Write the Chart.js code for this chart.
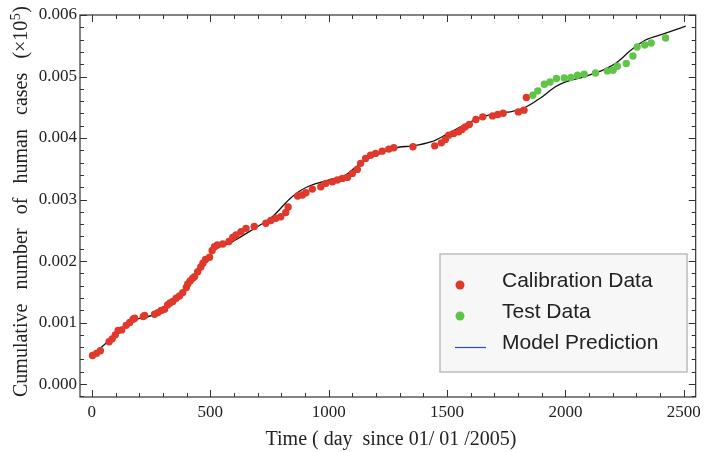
<!DOCTYPE html>
<html>
<head>
<meta charset="utf-8">
<script src="https://cdn.jsdelivr.net/npm/chart.js@4.4.0/dist/chart.umd.min.js"></script>
<style>
html, body { margin: 0; padding: 0; background: #fff; }
</style>
</head>
<body>
<canvas id="chart" width="706" height="452"></canvas>
<script>
// calibration data (red)
const calibDays = [3, 20, 36, 73, 86, 99, 111, 126, 145, 160, 174, 181, 217, 223, 265, 279, 293, 307, 320, 330,
  342, 356, 370, 384, 399, 405, 415, 426, 434, 447, 460, 469, 480, 497, 508, 518, 530, 553, 579, 595,
  609, 630, 651, 686, 735, 756, 777, 798, 819, 829, 869, 889, 904, 931, 967, 988, 1016, 1037, 1058, 1079,
  1100, 1121, 1135, 1156, 1177, 1198, 1226, 1254, 1275, 1356, 1448, 1476, 1493, 1507, 1528, 1549, 1563, 1577, 1594, 1622,
  1651, 1692, 1714, 1737, 1801, 1825, 1835];
const calibCases = [0.000464, 0.000500, 0.000541, 0.000687, 0.000735, 0.000800, 0.000873, 0.000881, 0.000955, 0.001000,
  0.001055, 0.001071, 0.001097, 0.001114, 0.001136, 0.001162, 0.001198, 0.001218, 0.001287, 0.001320,
  0.001344, 0.001396, 0.001433, 0.001487, 0.001571, 0.001628, 0.001677, 0.001721, 0.001747, 0.001828,
  0.001904, 0.001964, 0.002026, 0.002062, 0.002172, 0.002234, 0.002261, 0.002278, 0.002318, 0.002383,
  0.002424, 0.002477, 0.002532, 0.002562, 0.002614, 0.002659, 0.002695, 0.002721, 0.002789, 0.002878,
  0.003057, 0.003073, 0.003110, 0.003170, 0.003208, 0.003263, 0.003289, 0.003317, 0.003344, 0.003360,
  0.003425, 0.003490, 0.003588, 0.003669, 0.003722, 0.003750, 0.003787, 0.003820, 0.003841, 0.003857,
  0.003873, 0.003922, 0.003977, 0.004047, 0.004075, 0.004101, 0.004140, 0.004182, 0.004221, 0.004302,
  0.004344, 0.004360, 0.004383, 0.004404, 0.004425, 0.004453, 0.004659];

// test data (green)
const testDays = [1862, 1883, 1911, 1935, 1962, 1995, 2023, 2051, 2079, 2127, 2177, 2201, 2219, 2257, 2285, 2303, 2335, 2362, 2423];
const testCases = [0.004696, 0.004766, 0.004875, 0.004912, 0.004968, 0.004977, 0.004984, 0.005021, 0.005037, 0.005058,
  0.005091, 0.005102, 0.005167, 0.005211, 0.005334, 0.005481, 0.005513, 0.005545, 0.005627];

// model prediction curve
const modelDays = [0, 76, 160, 257, 316, 391, 455, 518, 581, 678, 762, 833, 875, 918, 1002, 1073, 1115, 1170, 1225, 1296,
  1351, 1435, 1494, 1561, 1633, 1717, 1772, 1831, 1898, 1956, 1998, 2083, 2167, 2214, 2277, 2336, 2420, 2508];
const modelCases = [0.00046, 0.00072, 0.00101, 0.00112, 0.00125, 0.00153, 0.00186, 0.00218, 0.00229, 0.00251,
  0.00272, 0.00300, 0.00313, 0.00322, 0.00332, 0.00340, 0.00353, 0.00367, 0.00376, 0.00385,
  0.00387, 0.00394, 0.00405, 0.00419, 0.00432, 0.00441, 0.00443, 0.00450, 0.00466, 0.00483,
  0.00491, 0.00500, 0.00512, 0.00522, 0.00543, 0.00559, 0.00570, 0.00582];

const xTicks = [0, 500, 1000, 1500, 2000, 2500];
const yTicks = [0, 0.001, 0.002, 0.003, 0.004, 0.005, 0.006];

const RED = '#e0392b';
const GREEN = '#5fc548';
const SERIF = '"Liberation Serif", "Times New Roman", serif';
const SANS = '"Liberation Sans", Arial, sans-serif';

function toPoints(xs, ys) {
    return xs.map((x, i) => ({ x: x, y: ys[i] }));
}

// frame with inward ticks on all four sides (Mathematica style)
const framePlugin = {
    id: 'frame',
    afterDatasetsDraw(chart) {
        const { ctx, chartArea: a, scales: { x, y } } = chart;
        ctx.save();
        ctx.strokeStyle = '#333';
        ctx.lineWidth = 1.2;
        ctx.strokeRect(a.left, a.top, a.right - a.left, a.bottom - a.top);
        ctx.lineWidth = 1;
        ctx.beginPath();
        for (let i = 0; i <= 25; i++) {
            const px = Math.round(x.getPixelForValue(i * 100)) + 0.5;
            const len = i % 5 === 0 ? 7 : 4;
            ctx.moveTo(px, a.bottom); ctx.lineTo(px, a.bottom - len);
            ctx.moveTo(px, a.top); ctx.lineTo(px, a.top + len);
        }
        for (let i = -1; i <= 30; i++) {
            const py = Math.round(y.getPixelForValue(i * 0.0002)) + 0.5;
            if (py < a.top || py > a.bottom) continue;
            const len = i % 5 === 0 ? 7 : 4;
            ctx.moveTo(a.left, py); ctx.lineTo(a.left + len, py);
            ctx.moveTo(a.right, py); ctx.lineTo(a.right - len, py);
        }
        ctx.stroke();
        ctx.restore();
    }
};

// axis titles
const titlePlugin = {
    id: 'titles',
    afterDraw(chart) {
        const ctx = chart.ctx;
        ctx.save();
        ctx.fillStyle = '#222';
        ctx.font = '20px ' + SERIF;
        ctx.textAlign = 'center';
        ctx.textBaseline = 'alphabetic';
        ctx.fillText('Time ( day  since 01/ 01 /2005)', 391, 445);

        // vertical title, words spread over the full height
        ctx.translate(27, 397);
        ctx.rotate(-Math.PI / 2);
        ctx.textAlign = 'left';
        const words = ['Cumulative', 'number', 'of', 'human', 'cases'];
        const bigFont = '20px ' + SERIF;
        const supFont = '14px ' + SERIF;
        ctx.font = bigFont;
        const ws = words.map(w => ctx.measureText(w).width);
        const pre = ctx.measureText('(\u00d710').width;
        const post = ctx.measureText(')').width;
        ctx.font = supFont;
        const sup = ctx.measureText('5').width;
        const lastW = pre + sup + post;
        const total = ws.reduce((s, w) => s + w, 0) + lastW;
        const gap = (390 - total) / words.length;
        let pos = 0;
        ctx.font = bigFont;
        words.forEach((w, i) => {
            ctx.fillText(w, pos, 0);
            pos += ws[i] + gap;
        });
        ctx.fillText('(\u00d710', pos, 0);
        ctx.font = supFont;
        ctx.fillText('5', pos + pre + 0.5, -7);
        ctx.font = bigFont;
        ctx.fillText(')', pos + pre + sup + 1, 0);
        ctx.restore();
    }
};

// boxed legend inside the plot
const legendPlugin = {
    id: 'boxLegend',
    afterDraw(chart) {
        const ctx = chart.ctx;
        ctx.save();
        ctx.fillStyle = '#f7f7f7';
        ctx.strokeStyle = '#bdbdbd';
        ctx.lineWidth = 1.5;
        ctx.fillRect(440, 254, 247, 118);
        ctx.strokeRect(440, 254, 247, 118);

        ctx.fillStyle = RED;
        ctx.beginPath(); ctx.arc(460, 285, 4.5, 0, Math.PI * 2); ctx.fill();
        ctx.fillStyle = GREEN;
        ctx.beginPath(); ctx.arc(460, 316, 4.5, 0, Math.PI * 2); ctx.fill();
        ctx.strokeStyle = '#2f45dc';
        ctx.lineWidth = 1.2;
        ctx.beginPath(); ctx.moveTo(455, 347.5); ctx.lineTo(486, 347.5); ctx.stroke();

        ctx.fillStyle = '#222';
        ctx.font = '21px ' + SANS;
        ctx.textAlign = 'left';
        ctx.textBaseline = 'alphabetic';
        ctx.fillText('Calibration Data', 502, 287);
        ctx.fillText('Test Data', 502, 318);
        ctx.fillText('Model Prediction', 502, 349);
        ctx.restore();
    }
};

const ctx = document.getElementById('chart').getContext('2d');
const chart = new Chart(ctx, {
    type: 'scatter',
    data: {
        datasets: [
            {
                label: 'Calibration Data',
                data: toPoints(calibDays, calibCases),
                backgroundColor: RED,
                borderWidth: 0,
                pointRadius: 3.7,
                order: 1
            },
            {
                label: 'Test Data',
                data: toPoints(testDays, testCases),
                backgroundColor: GREEN,
                borderWidth: 0,
                pointRadius: 3.7,
                order: 0
            },
            {
                type: 'line',
                label: 'Model Prediction',
                data: toPoints(modelDays, modelCases),
                borderColor: '#111',
                borderWidth: 1.3,
                pointRadius: 0,
                cubicInterpolationMode: 'monotone',
                fill: false,
                order: 2
            }
        ]
    },
    options: {
        responsive: false,
        animation: false,
        layout: { padding: { top: 15, right: 8, left: 0, bottom: 0 } },
        plugins: {
            legend: { display: false },
            tooltip: { enabled: false }
        },
        scales: {
            x: {
                type: 'linear',
                min: -50,
                max: 2550,
                grid: { display: false, drawTicks: false },
                border: { display: false },
                afterBuildTicks: s => { s.ticks = xTicks.map(v => ({ value: v })); },
                afterFit: s => { s.height = 55; },
                ticks: {
                    padding: 5,
                    color: '#222',
                    font: { family: SERIF, size: 17 },
                    callback: v => String(v)
                }
            },
            y: {
                type: 'linear',
                min: -0.00021,
                max: 0.006,
                grid: { display: false, drawTicks: false },
                border: { display: false },
                afterBuildTicks: s => { s.ticks = yTicks.map(v => ({ value: v })); },
                afterFit: s => { s.width = 80; },
                ticks: {
                    padding: 3,
                    color: '#222',
                    font: { family: SERIF, size: 17 },
                    callback: v => v.toFixed(3)
                }
            }
        }
    },
    plugins: [framePlugin, titlePlugin, legendPlugin]
});
</script>
</body>
</html>
